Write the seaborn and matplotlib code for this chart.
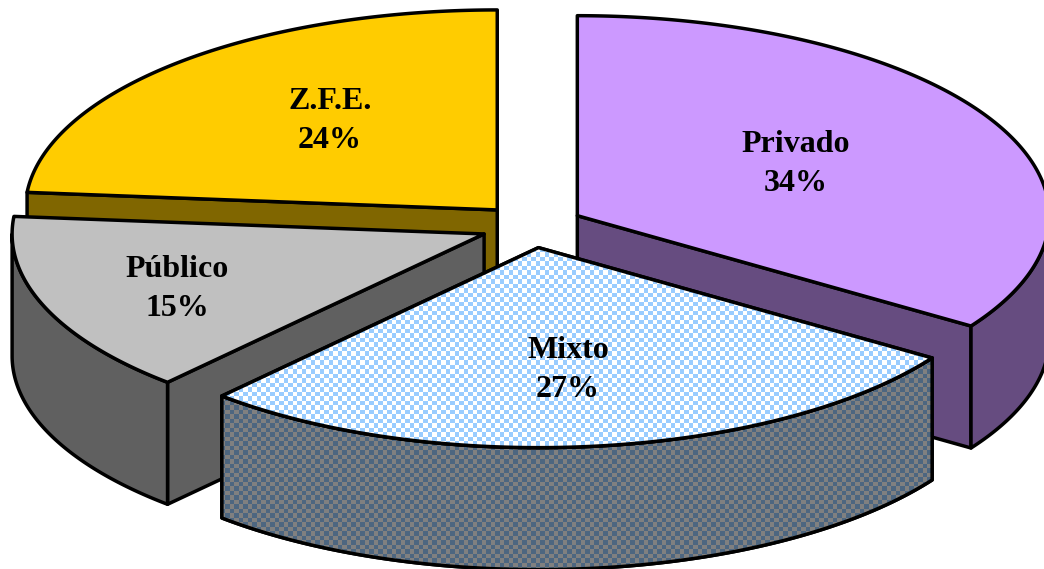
import numpy as np
import matplotlib
matplotlib.use("Agg")
import matplotlib.pyplot as plt
from matplotlib.patches import Polygon
from matplotlib.colors import ListedColormap
import seaborn as sns

# data (clockwise from 12 o'clock)
labels = ["Privado", "Mixto", "Público", "Z.F.E."]
shares = [34.3, 27.4, 14.7, 23.6]

# style
top_colors = ["#CC99FF", "#99CCFF", "#C0C0C0", "#FFCC00"]
side_colors = ["#664C80", "#4D6680", "#606060", "#806600"]
label_pos = [(796, 164), (568, 370), (177, 289), (330, 121)]
draw_order = [3, 2, 0, 1]
CX, CY, RX, RY, DEPTH, EXPLODE = 532, 226, 472, 200, 122, 0.109
LW = 2.5

sns.set_theme(style="white")
plt.rcParams["font.family"] = ["Liberation Serif", "DejaVu Serif"]

fig = plt.figure(figsize=(10.44, 5.69), dpi=100, facecolor="white")
ax = fig.add_axes([0, 0, 1, 1])
ax.set_xlim(0, 1044)
ax.set_ylim(569, 0)
ax.axis("off")


def rim(t0, t1, ox, oy, dz=0.0):
    t = np.linspace(t0, t1, max(int(abs(t1 - t0) * 2), 2))
    r = np.radians(t)
    return np.column_stack([ox + RX * np.sin(r), oy - RY * np.cos(r) + dz])


def checker(poly, c0, c1):
    # checker pattern of 4-5 px squares, clipped to the polygon
    bx = (np.arange(1044) % 9) < 5
    by = (np.arange(569) % 9) < 5
    arr = np.logical_xor.outer(by, bx).astype(int)
    im = ax.imshow(arr, cmap=ListedColormap([c0, c1]), extent=(0, 1044, 569, 0),
                   interpolation="nearest", aspect="auto", zorder=poly.get_zorder())
    im.set_clip_path(poly)


edges = np.cumsum([0] + shares) / sum(shares) * 360
z = 1
for i in draw_order:
    t0, t1 = edges[i], edges[i + 1]
    mid = np.radians((t0 + t1) / 2)
    ox = CX + EXPLODE * RX * np.sin(mid)
    oy = CY - EXPLODE * RY * np.cos(mid)
    apex = np.array([[ox, oy]])
    patterned = labels[i] == "Mixto"

    faces = []
    # radial face, seen when the cut looks towards the viewer
    for t in (t0, t1):
        p = rim(t, t, ox, oy)[0]
        s = np.sin(np.radians(t))
        if (t == t0 and s < -1e-6) or (t == t1 and s > 1e-6):
            faces.append(np.array([[ox, oy], p, p + [0, DEPTH], [ox, oy + DEPTH]]))
    # outer wall, the front half of the rim only
    a, b = max(t0, 90), min(t1, 270)
    if b > a:
        faces.append(np.vstack([rim(a, b, ox, oy), rim(b, a, ox, oy, DEPTH)]))

    for f in faces:
        pg = Polygon(f, closed=True, facecolor=side_colors[i], edgecolor="black",
                     lw=LW, joinstyle="round", zorder=z)
        ax.add_patch(pg)
        if patterned:
            checker(pg, "#4D6680", "#808080")
            ax.add_patch(Polygon(f, closed=True, fill=False, edgecolor="black", lw=LW,
                                 joinstyle="round", zorder=z + 1))
        z += 2

    top = np.vstack([apex, rim(t0, t1, ox, oy)])
    pg = Polygon(top, closed=True, facecolor=top_colors[i], edgecolor="black",
                 lw=LW, joinstyle="round", zorder=z)
    ax.add_patch(pg)
    if patterned:
        checker(pg, "#FFFFFF", "#99CCFF")
        ax.add_patch(Polygon(top, closed=True, fill=False, edgecolor="black", lw=LW,
                             joinstyle="round", zorder=z + 1))
    z += 2

for lab, sh, (x, y) in zip(labels, shares, label_pos):
    ax.text(x, y, f"{lab}\n{sh:.0f}%", ha="center", va="center", fontsize=23,
            fontweight="bold", color="black", linespacing=1.45, zorder=z + 5)

fig.savefig("out.png", dpi=100)
